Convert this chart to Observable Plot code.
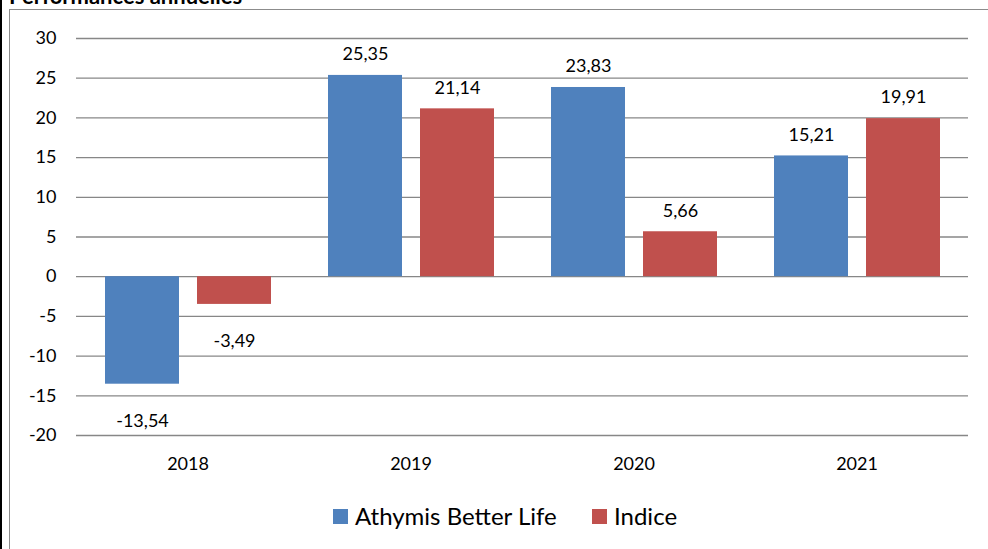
<!DOCTYPE html>
<html>
<head>
<meta charset="utf-8">
<script src="https://cdn.jsdelivr.net/npm/d3@7"></script>
<script src="https://cdn.jsdelivr.net/npm/@observablehq/plot@0.6"></script>
<style>
  html, body { margin: 0; padding: 0; background: #fff; }
  #wrap { position: relative; width: 988px; height: 549px; overflow: hidden; background: #fff; font-family: Lato, "Open Sans", sans-serif; }
  #frame { position: absolute; left: 9px; top: 9px; width: 1000px; height: 600px; border: 1px solid #8c8c8c; box-sizing: border-box; }
  #edge { position: absolute; left: 0; top: 0; width: 2px; height: 549px; background: #000; }
  #title { position: absolute; left: 9px; top: -15px; font-weight: bold; font-size: 22px; line-height: 22px; color: #000; white-space: nowrap; }
  #chart { position: absolute; left: 0; top: 0; }
  .leg { position: absolute; top: 502px; font-size: 24px; line-height: 28px; color: #000; white-space: nowrap; }
  .sw { position: absolute; top: 509px; width: 15px; height: 15px; }
</style>
</head>
<body>
<div id="wrap">
  <div id="frame"></div>
  <div id="edge"></div>
  <div id="title">Performances annuelles</div>
  <div id="chart"></div>
  <div id="legend"></div>
</div>
<script>
const years = ["2018", "2019", "2020", "2021"];
const seriesNames = ["Athymis Better Life", "Indice"];
const athymisValues = [-13.54, 25.35, 23.83, 15.21];
const indiceValues = [-3.49, 21.14, 5.66, 19.91];
const seriesColors = ["#4F81BD", "#C0504D"];
const yTicks = [-20, -15, -10, -5, 0, 5, 10, 15, 20, 25, 30];

const data = [];
years.forEach((yr, i) => {
  data.push({year: yr, series: seriesNames[0], value: athymisValues[i]});
  data.push({year: yr, series: seriesNames[1], value: indiceValues[i]});
});
const fmt = v => v.toFixed(2).replace(".", ",");

const chart = Plot.plot({
  width: 988,
  height: 480,
  marginLeft: 75,
  marginRight: 19,
  marginTop: 38,
  marginBottom: 45,
  style: {fontFamily: "Lato, 'Open Sans', sans-serif", fontSize: "18px", color: "#000", background: "transparent"},
  fx: {domain: years, padding: 0, label: null, tickSize: 0, tickPadding: 22, axis: "bottom"},
  x: {domain: seriesNames, paddingInner: 0.2, paddingOuter: 0.3, axis: null},
  y: {domain: [-20, 30], ticks: yTicks, tickSize: 0, tickPadding: 20, tickFormat: d => String(d), label: null},
  color: {domain: seriesNames, range: seriesColors},
  marks: [
    Plot.ruleY(yTicks, {stroke: "#878787", strokeWidth: 1.3}),
    Plot.barY(data, {fx: "year", x: "series", y: "value", fill: "series"}),
    Plot.text(data.filter(d => d.value >= 0), {fx: "year", x: "series", y: "value", text: d => fmt(d.value), dy: -21, fill: "#000", fontSize: 18}),
    Plot.text(data.filter(d => d.value < 0), {fx: "year", x: "series", y: "value", text: d => fmt(d.value), dy: 37, fill: "#000", fontSize: 18})
  ]
});
document.getElementById("chart").appendChild(chart);

// legend (HTML)
const legend = document.getElementById("legend");
const legPos = [{sw: 333, tx: 355}, {sw: 592, tx: 614}];
seriesNames.forEach((name, i) => {
  const sw = document.createElement("div");
  sw.className = "sw";
  sw.style.left = legPos[i].sw + "px";
  sw.style.background = seriesColors[i];
  legend.appendChild(sw);
  const t = document.createElement("div");
  t.className = "leg";
  t.style.left = legPos[i].tx + "px";
  t.textContent = name;
  legend.appendChild(t);
});
</script>
</body>
</html>
